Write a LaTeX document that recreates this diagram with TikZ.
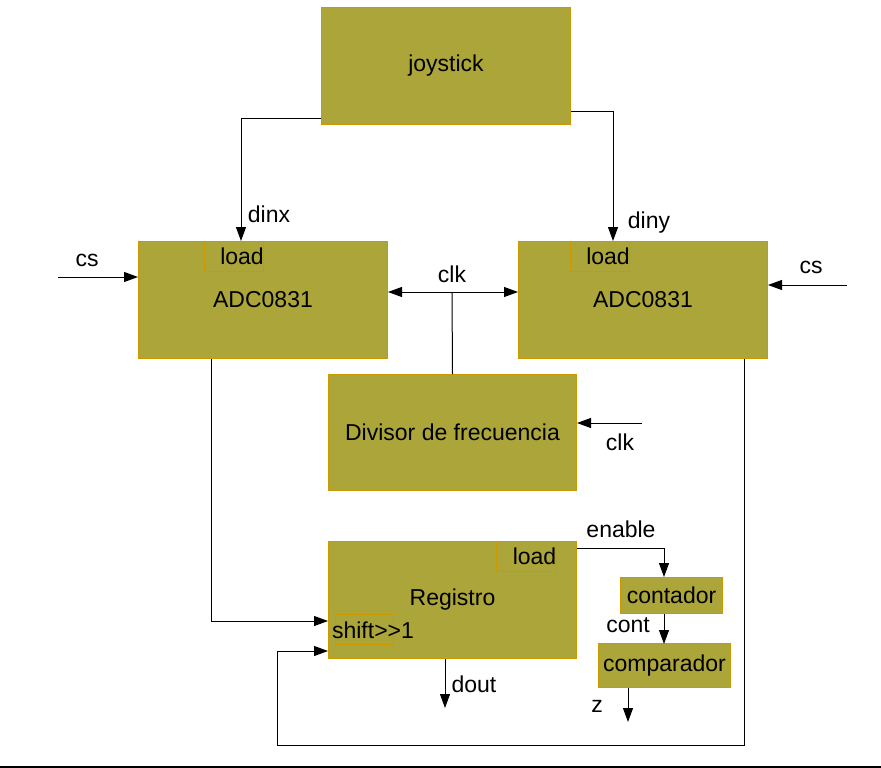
\documentclass[tikz,border=0pt]{standalone}
\usepackage{fontspec}
\setmainfont{Liberation Sans}
\usetikzlibrary{arrows.meta,calc}
\definecolor{olivefill}{RGB}{171,165,58}
\definecolor{bordgold}{RGB}{204,153,0}
\begin{document}
\begin{tikzpicture}[x=1pt,y=-1pt,
 txt/.style={font=\fontsize{23}{27}\selectfont, inner sep=0pt},
 blk/.style={txt, draw=bordgold, fill=olivefill, line width=1pt, inner sep=0pt, anchor=north west},
 subbox/.style={draw=bordgold, line width=0.8pt, inner sep=0pt, anchor=north west, minimum width=59pt, minimum height=30pt},
 wire/.style={line width=1pt},
 arr/.style={wire, -{Triangle[length=14pt,width=10pt]}},
 darr/.style={wire, {Triangle[length=14pt,width=10pt]}-{Triangle[length=14pt,width=10pt]}}]
\useasboundingbox (0,0) rectangle (881,768);

% blocks
\node[blk, minimum width=249pt, minimum height=117pt] (joy) at (321,7) {joystick};
\node[blk, minimum width=249pt, minimum height=117pt] (adcL) at (138,241) {ADC0831};
\node[blk, minimum width=249pt, minimum height=117pt] (adcR) at (518,241) {ADC0831};
\node[blk, minimum width=248pt, minimum height=116pt] (div) at (328,374) {Divisor de frecuencia};
\node[blk, minimum width=248pt, minimum height=117pt] (reg) at (328,541) {Registro};
\node[blk, minimum width=102pt, minimum height=36pt] (cnt) at (620,577) {contador};
\node[blk, minimum width=132pt, minimum height=44pt] (cmp) at (598,643) {comparador};

% sub boxes
\node[subbox] (ldL) at (204,241) {};
\node[subbox] (ldR) at (570,241) {};
\node[subbox] (ldReg) at (496,541) {};
\node[subbox, minimum width=58pt] (sh) at (335,614) {};
\node[txt] (ldLt) at (242,256) {load};
\node[txt] (ldRt) at (608,256) {load};
\node[txt] (ldRegt) at (534.5,556) {load};
\node[txt] (sht) at (373,630) {shift>\kern0pt>\kern0pt1};

% coordinates
\coordinate (csL) at (58,277);
\coordinate (csR) at (847,285);
\coordinate (clkm) at (452,292);
\coordinate (clkin) at (642,423);
\coordinate (fb1) at (744,745);
\coordinate (fb2) at (277,651);
\coordinate (dout) at (445,708);
\coordinate (zend) at (628,722);
\coordinate (bl) at (0,767);
\coordinate (br) at (881,767);

% connectors
\draw[arr] ([yshift=7pt]joy.south west) -| ($(adcL.north west)+(103,0)$);
\draw[arr] ([yshift=14pt]joy.south east) -| ($(adcR.north west)+(95,0)$);
\draw[arr] (csL) -- (csL -| adcL.west);
\draw[arr] (csR) -- (csR -| adcR.east);
\draw[darr] (clkm -| adcL.east) -- (clkm -| adcR.west);
\draw[wire] (clkm) -- (div.north);
\draw[arr] (clkin) -- (clkin -| div.east);
\draw[arr] ($(adcL.south west)+(73,0)$) |- ($(reg.north west)+(0,80)$);
\draw[arr] ($(adcR.south west)+(226,0)$) -- (fb1) -| (fb2) -- (fb2 -| reg.west);
\draw[arr] (dout |- reg.south) -- (dout);
\draw[arr] ($(reg.north east)+(0,7)$) -| ($(cnt.north west)+(44,0)$);
\draw[arr] ($(cnt.south west)+(44,0)$) -- ($(cnt.south west)+(44,30)$);
\draw[arr] (zend |- cmp.south) -- (zend);
\draw[line width=1.5pt] (bl) -- (br);

% labels
\node[txt] (ldinx) at (269,214) {dinx};
\node[txt] (ldiny) at (649,223) {diny};
\node[txt] (lcsL) at (87,260) {cs};
\node[txt] (lcsR) at (811,267) {cs};
\node[txt] (lclk) at (452,274) {clk};
\node[txt] (lclk2) at (620,442) {clk};
\node[txt] (ldout) at (474,684) {dout};
\node[txt] (lenable) at (621,529) {enable};
\node[txt] (lcont) at (628,625) {cont};
\node[txt] (lz) at (597,706) {z};
\end{tikzpicture}
\end{document}
